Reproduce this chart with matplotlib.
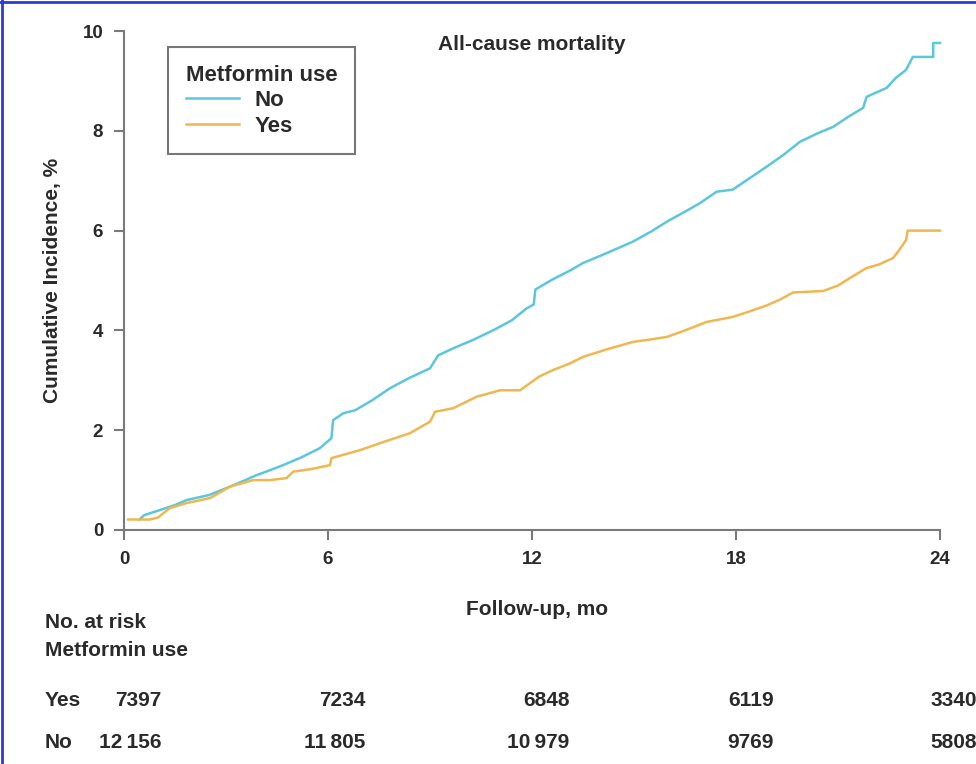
import matplotlib
matplotlib.use("Agg")
import matplotlib.pyplot as plt
from matplotlib.lines import Line2D
import matplotlib.transforms as mtransforms

# ---- data ----
t_no = [0.45, 0.6, 1.06, 1.5, 1.84, 2.5, 3.12, 3.5, 3.9, 4.3, 4.68, 5.2, 5.76, 6.1, 6.15,
        6.45, 6.8, 7.3, 7.82, 8.4, 9.0, 9.24, 9.68, 10.3, 10.85, 11.4, 11.84, 12.05, 12.1,
        12.6, 13.12, 13.5, 14.2, 14.97, 15.5, 15.97, 16.5, 16.94, 17.43, 17.9, 18.4, 18.9,
        19.4, 19.88, 20.4, 20.86, 21.3, 21.74, 21.84, 22.43, 22.7, 23.0, 23.2, 23.8, 23.8, 24.0]
ci_no = [0.21, 0.3, 0.4, 0.5, 0.6, 0.7, 0.87, 0.98, 1.1, 1.2, 1.3, 1.45, 1.64, 1.84, 2.2,
         2.34, 2.4, 2.6, 2.84, 3.05, 3.24, 3.5, 3.64, 3.82, 4.0, 4.2, 4.44, 4.52, 4.82,
         5.02, 5.2, 5.35, 5.55, 5.78, 5.98, 6.18, 6.38, 6.55, 6.78, 6.82, 7.05, 7.28,
         7.52, 7.78, 7.95, 8.08, 8.28, 8.46, 8.68, 8.86, 9.06, 9.22, 9.48, 9.48, 9.76, 9.76]

t_yes = [0.12, 0.76, 1.0, 1.35, 1.84, 2.53, 3.12, 3.8, 4.3, 4.78, 4.98, 5.5, 6.06, 6.1,
         6.94, 7.7, 8.41, 9.0, 9.15, 9.68, 10.37, 11.06, 11.65, 12.2, 12.6, 13.12, 13.5,
         14.2, 14.97, 15.5, 15.97, 16.5, 17.14, 17.9, 18.4, 18.9, 19.3, 19.68, 20.57, 21.0,
         21.35, 21.84, 22.2, 22.62, 22.8, 23.0, 23.05, 24.0]
ci_yes = [0.21, 0.21, 0.25, 0.44, 0.54, 0.64, 0.87, 1.0, 1.0, 1.04, 1.17, 1.22, 1.3, 1.44,
          1.6, 1.78, 1.94, 2.17, 2.37, 2.44, 2.67, 2.8, 2.8, 3.07, 3.2, 3.34, 3.47,
          3.62, 3.77, 3.82, 3.87, 4.0, 4.17, 4.27, 4.38, 4.5, 4.62, 4.76, 4.79, 4.9,
          5.05, 5.25, 5.32, 5.45, 5.61, 5.81, 6.0, 6.0]

risk_times = [0, 6, 12, 18, 24]
risk_yes = ["7397", "7234", "6848", "6119", "3340"]
risk_no = ["12\u2009156", "11\u2009805", "10\u2009979", "9769", "5808"]

x_ticks = [0, 6, 12, 18, 24]
y_ticks = [0, 2, 4, 6, 8, 10]

BLUE = "#5cc6dc"
GOLD = "#efb74f"
GRAY = "#7a7a7a"
TXT = "#2a2a2a"
FONT = ["Liberation Sans", "DejaVu Sans"]

plt.rcParams["font.family"] = FONT
plt.rcParams["font.weight"] = "bold"

W, H = 976, 764
fig = plt.figure(figsize=(W / 100, H / 100), dpi=100)
ax = fig.add_axes([124 / W, 1 - 530 / H, (940 - 124) / W, (530 - 31) / H])

ax.plot(t_no, ci_no, color=BLUE, lw=1.8, label="No", clip_on=False)
ax.plot(t_yes, ci_yes, color=GOLD, lw=1.8, label="Yes", clip_on=False)

ax.set_xlim(0, 24)
ax.set_ylim(0, 10)
ax.set_xticks(x_ticks)
ax.set_yticks(y_ticks)
for s in ["top", "right"]:
    ax.spines[s].set_visible(False)
for s in ["left", "bottom"]:
    ax.spines[s].set_color(GRAY)
    ax.spines[s].set_linewidth(1.5)
ax.tick_params(axis="both", direction="out", length=7, width=1.5, color=GRAY,
               labelsize=13.5, labelcolor=TXT, pad=8)
for lab in ax.get_xticklabels() + ax.get_yticklabels():
    lab.set_fontweight("bold")

ax.set_ylabel("Cumulative Incidence, %", fontsize=15, color=TXT, fontweight="bold")
ax.yaxis.set_label_coords(-62 / 816, 0.5)
ax.set_xlabel("Follow-up, mo", fontsize=15, color=TXT, fontweight="bold")
ax.xaxis.set_label_coords(0.506, -(600 - 530) / 499, transform=ax.transAxes)

ax.text(12.0, 9.72, "All-cause mortality", ha="center", va="center", fontsize=15,
        color=TXT, fontweight="bold")

leg = ax.legend(loc="upper left", bbox_to_anchor=((168 - 124) / 816, (530 - 47) / 499),
                borderaxespad=0, frameon=True, fancybox=False, title="Metformin use",
                fontsize=16, title_fontproperties={"weight": "bold", "size": 16},
                handlelength=2.4, handletextpad=0.7, labelspacing=0.2,
                borderpad=0.8, alignment="left")
leg.get_frame().set_edgecolor("#555555")
leg.get_frame().set_linewidth(1.5)
for txt in leg.get_texts():
    txt.set_fontweight("bold")
    txt.set_color(TXT)
leg.get_title().set_color(TXT)

# risk table
tr = mtransforms.blended_transform_factory(ax.transData, fig.transFigure)
def fy(py):
    return 1 - py / H

fig.text(45 / W, fy(622), "No. at risk", ha="left", va="center", fontsize=15, color=TXT, fontweight="bold")
fig.text(45 / W, fy(650), "Metformin use", ha="left", va="center", fontsize=15, color=TXT, fontweight="bold")
fig.text(45 / W, fy(700), "Yes", ha="left", va="center", fontsize=15, color=TXT, fontweight="bold")
fig.text(45 / W, fy(742), "No", ha="left", va="center", fontsize=15, color=TXT, fontweight="bold")
for t, ny, nn in zip(risk_times, risk_yes, risk_no):
    ax.text(t + 1.1, fy(700), ny, transform=tr, ha="right", va="center", fontsize=15,
            color=TXT, fontweight="bold")
    ax.text(t + 1.1, fy(742), nn, transform=tr, ha="right", va="center", fontsize=15,
            color=TXT, fontweight="bold")

# blue frame (top and left edges)
fig.add_artist(Line2D([0, 1], [1 - 2 / H, 1 - 2 / H], transform=fig.transFigure, color="#2b3bd6", lw=2))
fig.add_artist(Line2D([2 / W, 2 / W], [0, 1], transform=fig.transFigure, color="#2b3bd6", lw=2))

fig.savefig("out.png", dpi=100)
